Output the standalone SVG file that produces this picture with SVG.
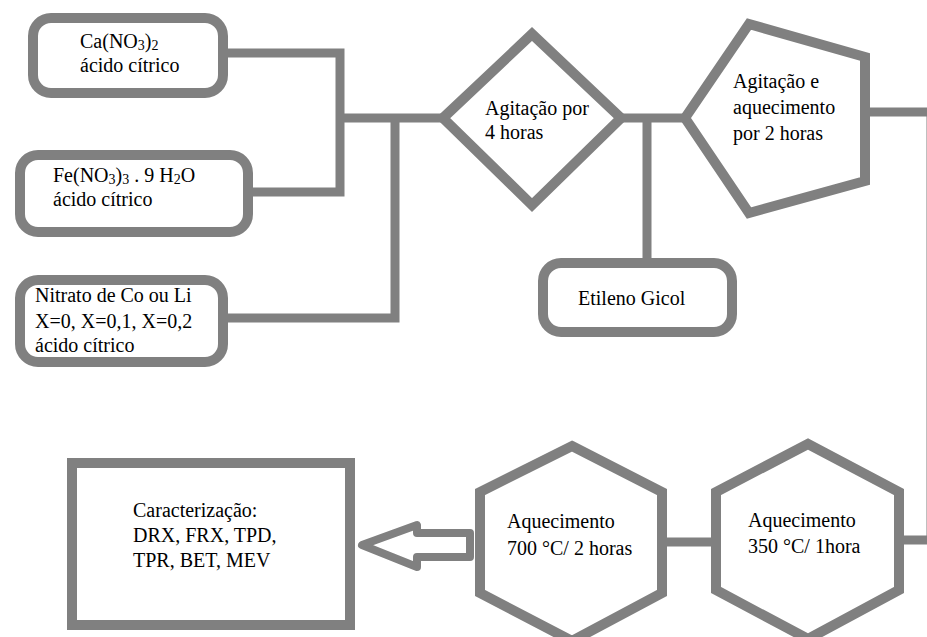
<svg xmlns="http://www.w3.org/2000/svg" width="927" height="637" viewBox="0 0 927 637">
<style>
.s{fill:#fff;stroke:#808080;stroke-width:10}
.c{fill:none;stroke:#808080;stroke-width:9;stroke-linejoin:miter}
.t{font-family:'Liberation Serif',serif;font-size:20px;fill:#000}
.sub{font-size:14px}
</style>
<rect width="927" height="637" fill="#fff"/>
<g id="connectors">
<path class="c" d="M228,53 H340 V192 H253"/>
<path class="c" d="M340,118 H443"/>
<path class="c" d="M228,318 H395 V118"/>
<path class="c" d="M623,118 H683"/>
<path class="c" d="M647,118 V258"/>
<path class="c" d="M865,112 H931 V540 H900"/>
<path class="c" d="M662,542 H715"/>
<polygon points="362,545 417,525 417,533 470,533 470,557 417,557 417,567" fill="#fff" stroke="#808080" stroke-width="8" stroke-linejoin="round"/>
</g>
<g class="t" font-family="Liberation Serif, serif">
<g id="ca">
<rect class="s" x="33" y="18" width="190" height="75" rx="18"/>
<text x="80" y="48">Ca(NO<tspan class="sub" dy="2">3</tspan><tspan dy="-2">)</tspan><tspan class="sub" dy="2">2</tspan></text>
<text x="80" y="72">ácido cítrico</text>
</g>
<g id="fe">
<rect class="s" x="20" y="155" width="228" height="77" rx="18"/>
<text x="53" y="182">Fe(NO<tspan class="sub" dy="2">3</tspan><tspan dy="-2">)</tspan><tspan class="sub" dy="2">3</tspan><tspan dy="-2"> . 9 H</tspan><tspan class="sub" dy="2">2</tspan><tspan dy="-2">O</tspan></text>
<text x="53" y="206">ácido cítrico</text>
</g>
<g id="nitrato">
<rect class="s" x="20" y="280" width="203" height="82" rx="18"/>
<text x="35" y="302">Nitrato de Co ou Li</text>
<text x="35" y="328">X=0, X=0,1, X=0,2</text>
<text x="35" y="352">ácido cítrico</text>
</g>
<g id="agitacao">
<polygon class="s" points="443,118 532,34 621,118 532,205"/>
<text x="485" y="115">Agitação por</text>
<text x="485" y="139">4 horas</text>
</g>
<g id="agitacao2">
<polygon class="s" points="685,118 749,24 865,57 865,181 749,213"/>
<text x="733" y="88">Agitação e</text>
<text x="733" y="114">aquecimento</text>
<text x="733" y="140">por 2 horas</text>
</g>
<g id="etileno">
<rect class="s" x="543" y="263" width="189" height="69" rx="18"/>
<text x="578" y="305">Etileno Gicol</text>
</g>
<g id="aq350">
<polygon class="s" points="808,444 899,492 899,590 808,639 716,590 716,492"/>
<text x="748" y="527">Aquecimento</text>
<text x="748" y="553">350 °C/ 1hora</text>
</g>
<g id="aq700">
<polygon class="s" points="572,446 662,492 662,593 572,641 480,593 480,492"/>
<text x="507" y="528">Aquecimento</text>
<text x="507" y="555">700 °C/ 2 horas</text>
</g>
<g id="caracterizacao">
<rect class="s" x="72" y="463" width="278" height="162"/>
<text x="133" y="517">Caracterização:</text>
<text x="133" y="542">DRX, FRX, TPD,</text>
<text x="133" y="567">TPR, BET, MEV</text>
</g>
</g>
</svg>
